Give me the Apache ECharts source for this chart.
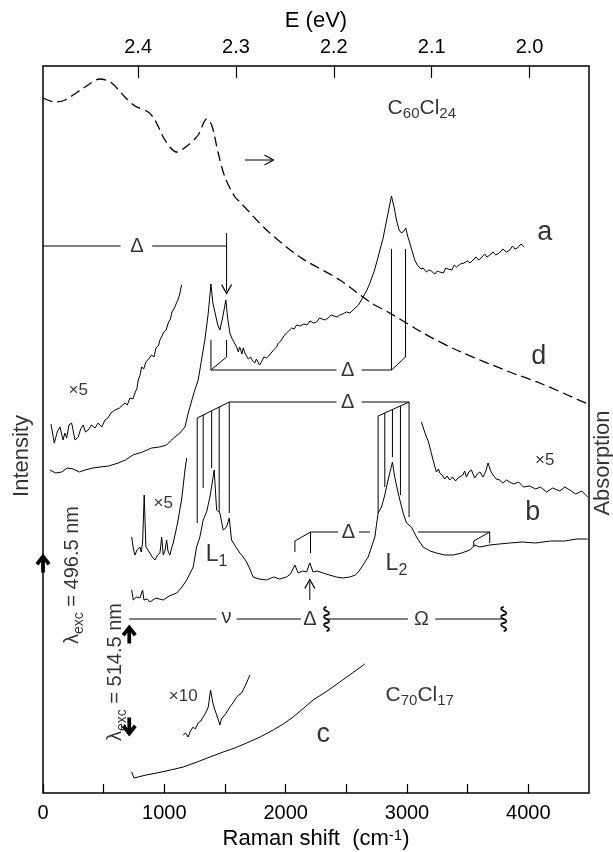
<!DOCTYPE html>
<html>
<head>
<meta charset="utf-8">
<script src="https://cdn.jsdelivr.net/npm/echarts@6/dist/echarts.min.js"></script>
<style>
  html, body { margin: 0; padding: 0; background: #fff; }
  #chart { width: 613px; height: 852px; }
</style>
</head>
<body>
<div id="chart"></div>
<script>
// all curves: [Raman shift (cm-1), height in arbitrary units]

const absorptionD = [
  [0, 695], [99, 691], [181, 693], [346, 706], [470, 714], [566, 710], [675, 696],
  [758, 687], [867, 681], [923, 673], [1005, 653], [1101, 641], [1197, 648],
  [1279, 658], [1348, 674], [1390, 668], [1444, 640], [1499, 616], [1582, 596],
  [1623, 591], [1843, 563], [2117, 536], [2446, 513], [2694, 491], [2858, 480],
  [3133, 460], [3408, 443], [3847, 421], [4094, 410], [4489, 389],
];

const spectrumA = [
  [58, 323], [104, 320], [154, 321], [200, 325], [250, 324], [300, 321], [346, 323],
  [410, 325], [470, 326], [540, 327], [620, 330], [680, 333], [741, 338], [820, 341],
  [895, 345], [960, 346], [1019, 348], [1050, 352], [1087, 356], [1128, 360],
  [1170, 366], [1197, 380], [1246, 401], [1279, 413], [1334, 453], [1362, 480],
  [1384, 509], [1400, 490], [1417, 481], [1440, 468], [1458, 463], [1480, 475],
  [1507, 493], [1522, 475], [1540, 460], [1556, 455], [1570, 452], [1582, 449],
  [1596, 446], [1610, 441], [1620, 446], [1630, 443], [1640, 439], [1650, 445],
  [1664, 440], [1678, 440], [1692, 434], [1710, 436], [1728, 432], [1746, 430],
  [1758, 434], [1770, 433], [1785, 428], [1800, 431], [1820, 436], [1843, 435],
  [1860, 437], [1880, 440], [1900, 443], [1925, 446], [1940, 450], [1960, 452],
  [1985, 457], [2007, 460], [2025, 462], [2050, 465], [2070, 464], [2090, 468],
  [2120, 467], [2150, 469], [2175, 468], [2200, 472], [2230, 470], [2255, 471],
  [2280, 475], [2300, 474], [2325, 473], [2350, 475], [2375, 478], [2400, 477],
  [2425, 476], [2446, 478], [2470, 479], [2500, 481], [2530, 480], [2556, 483],
  [2600, 488], [2638, 496], [2670, 503], [2694, 510], [2730, 522], [2762, 536],
  [2803, 555], [2844, 580], [2872, 597], [2895, 585], [2913, 573], [2935, 563],
  [2955, 560], [2975, 562], [2990, 565], [3005, 557], [3023, 550], [3064, 533],
  [3085, 528], [3100, 527], [3115, 524], [3133, 525], [3160, 521], [3180, 523],
  [3200, 522], [3230, 519], [3250, 522], [3270, 521], [3300, 520], [3320, 525],
  [3340, 524], [3370, 523], [3390, 528], [3408, 526], [3440, 529], [3470, 530],
  [3500, 532], [3520, 530], [3544, 533], [3570, 536], [3590, 533], [3610, 535],
  [3640, 539], [3660, 536], [3682, 538], [3710, 541], [3730, 538], [3760, 540],
  [3790, 544], [3820, 541], [3847, 543], [3870, 547], [3890, 544], [3910, 545],
  [3940, 549], [3967, 546],
];

const spectrumAx5 = [
  [66, 369], [93, 350], [120, 362], [140, 366], [165, 353], [180, 360], [195, 355],
  [214, 368], [236, 370], [264, 353], [291, 356], [310, 364], [332, 368], [350, 361],
  [373, 363], [400, 368], [428, 365], [455, 370], [484, 366], [510, 373], [535, 375],
  [560, 380], [593, 383], [630, 385], [675, 390], [695, 388], [717, 395], [740, 394],
  [758, 400], [775, 405], [785, 413], [800, 418], [813, 426], [830, 424], [848, 431],
  [870, 434], [895, 438], [915, 436], [931, 445], [950, 447], [964, 453], [980, 455],
  [997, 461], [1015, 463], [1032, 470], [1050, 474], [1063, 481], [1075, 479],
  [1087, 486], [1100, 490], [1112, 493], [1125, 498], [1142, 508],
];

const spectrumB = [
  [731, 203], [744, 193], [770, 196], [799, 195], [821, 203], [832, 193], [860, 194],
  [881, 191], [930, 195], [991, 193], [1040, 197], [1101, 200], [1140, 205],
  [1184, 213], [1238, 226], [1266, 246], [1293, 256], [1320, 273], [1348, 281],
  [1376, 296], [1398, 313], [1411, 323], [1431, 283], [1458, 280], [1485, 263],
  [1513, 266], [1535, 275], [1554, 253], [1590, 246], [1623, 240], [1650, 236],
  [1678, 231], [1705, 224], [1732, 216], [1780, 214], [1843, 213], [1900, 216],
  [1950, 214], [2007, 216], [2040, 219], [2076, 228], [2103, 220], [2140, 222],
  [2172, 221], [2199, 230], [2226, 221], [2260, 222], [2309, 220], [2360, 218],
  [2419, 216], [2470, 215], [2529, 216], [2575, 218], [2611, 223], [2680, 236],
  [2735, 256], [2762, 280], [2790, 286], [2817, 298], [2844, 313], [2880, 331],
  [2899, 316], [2927, 300], [2968, 280], [2996, 270], [3037, 266], [3078, 256],
  [3133, 246], [3190, 242], [3243, 240], [3310, 238], [3380, 238], [3450, 240],
  [3517, 243], [3558, 248], [3600, 246], [3682, 248], [3760, 249], [3847, 250],
  [3950, 251], [4060, 250], [4180, 252], [4300, 252], [4400, 254], [4489, 254],
];

const spectrumBx5Left = [
  [731, 256], [745, 244], [758, 238], [775, 243], [799, 246], [810, 241], [821, 251],
  [834, 298], [848, 246], [865, 243], [881, 240], [900, 236], [923, 233], [945, 238],
  [964, 240], [978, 256], [991, 238], [1005, 242], [1019, 253], [1030, 242],
  [1046, 238], [1060, 245], [1073, 250], [1095, 262], [1114, 273], [1130, 285],
  [1142, 293], [1158, 310], [1170, 323], [1184, 335],
];

const spectrumBx5Right = [
  [3119, 371], [3140, 363], [3160, 356], [3175, 352], [3188, 346], [3200, 340],
  [3215, 333], [3230, 326], [3243, 321], [3260, 324], [3270, 320], [3290, 318],
  [3310, 314], [3330, 317], [3352, 313], [3375, 316], [3400, 312], [3420, 315],
  [3435, 313], [3460, 318], [3475, 322], [3490, 316], [3510, 321], [3531, 323],
  [3558, 315], [3580, 319], [3600, 321], [3627, 316], [3650, 322], [3668, 330],
  [3690, 322], [3709, 318], [3735, 314], [3764, 313], [3790, 310], [3820, 313],
  [3847, 311], [3880, 309], [3920, 311], [3960, 306], [4011, 307], [4060, 304],
  [4100, 306], [4151, 301], [4200, 305], [4260, 302], [4300, 306], [4341, 303],
  [4390, 299], [4440, 302], [4489, 296],
];

const spectrumC = [
  [731, 21], [750, 15], [850, 18], [937, 20], [1050, 23], [1156, 26], [1270, 31],
  [1376, 36], [1392, 35], [1485, 41], [1580, 45], [1678, 50], [1790, 56], [1897, 63],
  [1980, 69], [2062, 76], [2150, 85], [2226, 93], [2330, 101], [2446, 111],
  [2550, 120], [2652, 129],
];

const spectrumCx10 = [
  [1156, 58], [1175, 60], [1197, 56], [1215, 62], [1238, 66], [1255, 64], [1279, 70],
  [1300, 72], [1320, 76], [1340, 80], [1362, 86], [1381, 103], [1400, 90], [1417, 83],
  [1440, 75], [1458, 68], [1470, 74], [1485, 76], [1510, 80], [1540, 86], [1565, 90],
  [1596, 96], [1615, 98], [1637, 100], [1670, 108], [1705, 118],
];

// annotation strokes (brackets, region line), same units
const deltaTopA = [
  [[0, 547], [640, 547]],
  [[900, 547], [1513, 547]],
  [[1513, 560], [1513, 502]],
];

const deltaLowA = [
  [[1384, 453], [1384, 423], [2419, 423]],
  [[2625, 423], [2872, 423], [2872, 544]],
  [[1513, 453], [1513, 436], [1384, 423]],
  [[2988, 544], [2988, 436], [2872, 423]],
];

const deltaUpperB = [
  [[1271, 375], [1535, 391], [2419, 391]],
  [[2625, 391], [3017, 391], [3017, 276]],
  [[2762, 377], [3017, 391]],
  [[1271, 375], [1271, 270]],
  [[1320, 378], [1320, 305]],
  [[1390, 382], [1390, 325]],
  [[1452, 386], [1452, 281]],
  [[1535, 391], [1535, 280]],
  [[2762, 377], [2762, 280]],
  [[2817, 380], [2817, 306]],
  [[2880, 384], [2880, 336]],
  [[2946, 387], [2946, 298]],
];

const deltaLowB = [
  [[2076, 241], [2076, 252], [2205, 261], [2432, 261]],
  [[2605, 261], [2694, 261]],
  [[3091, 261], [3682, 261], [3682, 250]],
  [[2205, 261], [2205, 240]],
  [[3682, 261], [3550, 252], [3550, 246]],
];

const regionLine = [
  [[711, 174], [1430, 174]],
  [[1595, 174], [2125, 174]],
  [[2337, 174], [3007, 174]],
  [[3233, 174], [3797, 174]],
];

const arrowStems = [
  [[2199, 193], [2199, 211]],
  [[1664, 633], [1890, 633]],
];

const regionBreaks = [[2337, 174], [3797, 174]];

// markers: [x, y, rotation]
const thickArrows = [[0, 230, 0], [711, 159, 0], [711, 66, 180]];
const thinHeads = [[1513, 500, 180], [2199, 213, 0], [1895, 633, -90]];

// text: [text, x, y, kind]
const textItems = [
  ['{m|C}{s|60}{m|Cl}{s|24}', 3122, 685, 'formula'],
  ['{m|C}{s|70}{m|Cl}{s|17}', 3105, 98, 'formula'],
  ['a', 4135, 560, 'letter'],
  ['d', 4086, 436, 'letter'],
  ['b', 4036, 280, 'letter'],
  ['c', 2309, 58, 'letter'],
  ['×5', 291, 403, 'gain'],
  ['×5', 991, 290, 'gain'],
  ['×5', 4135, 333, 'gain'],
  ['×10', 1156, 97, 'gain'],
  ['{m|L}{s|1}', 1431, 238, 'peak'],
  ['{m|L}{s|2}', 2913, 229, 'peak'],
  ['Δ', 774, 547, 'greek'],
  ['Δ', 2512, 423, 'greek'],
  ['Δ', 2512, 391, 'greek'],
  ['Δ', 2518, 261, 'greek'],
  ['ν', 1513, 176, 'greek'],
  ['Δ', 2199, 174, 'greek'],
  ['Ω', 3120, 174, 'greek'],
  ['Intensity', -173, 337, 'side'],
  ['Absorption', 4613, 330, 'side'],
  ['{m|λ}{s|exc}{m| = 496.5 nm}', 247, 218, 'lambda'],
  ['{m|λ}{s|exc}{m| = 514.5 nm}', 600, 121, 'lambda'],
];

const bottomLabelStep = 1000;
const topEnergies = [2.4, 2.3, 2.2, 2.1, 2.0];
const laserEnergy = 2.4972; // eV, 496.5 nm
const cmPerEv = 8065.5;

const FONT = 'Liberation Sans, Arial, sans-serif';

const textKinds = {
  formula: { size: 21, sub: 15, rotate: 0 },
  letter: { size: 27, sub: 18, rotate: 0 },
  gain: { size: 17, sub: 12, rotate: 0 },
  peak: { size: 23, sub: 16, rotate: 0 },
  greek: { size: 20, sub: 14, rotate: 0 },
  side: { size: 22, sub: 15, rotate: 90 },
  lambda: { size: 20, sub: 14, rotate: 90 },
};

function lineSeries(points, extra) {
  return Object.assign({
    type: 'line',
    data: points,
    showSymbol: false,
    symbol: 'none',
    silent: true,
    clip: false,
    animation: false,
    lineStyle: { color: '#000', width: 1 },
    z: 3,
  }, extra || {});
}

function strokeGroup(polylines, width) {
  return polylines.map((points) => lineSeries(points, {
    lineStyle: { color: '#000', width: width || 1 },
  }));
}

function textSeries() {
  return {
    type: 'scatter',
    silent: true,
    clip: false,
    animation: false,
    symbolSize: 0,
    z: 6,
    data: textItems.map((item) => {
      const kind = textKinds[item[3]];
      return {
        value: [item[1], item[2]],
        label: {
          show: true,
          position: [0, 0],
          align: 'center',
          verticalAlign: 'middle',
          rotate: kind.rotate,
          formatter: item[0],
          color: '#000',
          fontFamily: FONT,
          fontSize: kind.size,
          rich: {
            m: { fontSize: kind.size, fontFamily: FONT, color: '#000', lineHeight: kind.size * 1.3, verticalAlign: 'middle' },
            s: { fontSize: kind.sub, fontFamily: FONT, color: '#000', lineHeight: kind.sub, verticalAlign: 'bottom', padding: [kind.size * 0.55, 0, 0, 0] },
          },
        },
      };
    }),
  };
}

const thickArrowPath = 'path://M10,0 L20,11 L16,14 L12.5,9.5 L12.5,22 L7.5,22 L7.5,9.5 L4,14 L0,11 Z';
const chevronPath = 'path://M0,9 L5,0 L10,9';
const squigglePath = 'path://M3,0 C0,3 6,5 3,8 C0,11 6,13 3,16 C0,19 6,21 3,24';

const chart = echarts.init(document.getElementById('chart'));

chart.setOption({
  animation: false,
  backgroundColor: '#fff',
  grid: {
    left: 43,
    right: 24,
    top: 66,
    bottom: 59,
    show: true,
    borderColor: '#000',
    borderWidth: 1.5,
    backgroundColor: 'transparent',
    containLabel: false,
    outerBoundsMode: 'none',
  },
  xAxis: [
    {
      type: 'value',
      position: 'bottom',
      min: 0,
      max: 4500,
      interval: 500,
      splitLine: { show: false },
      axisLine: { show: false },
      axisTick: { inside: true, length: 9, lineStyle: { color: '#000', width: 1.2 } },
      axisLabel: {
        color: '#000',
        fontFamily: FONT,
        fontSize: 20,
        margin: 10,
        showMaxLabel: false,
        formatter: (v) => (v % bottomLabelStep === 0 ? String(v) : ''),
      },
      name: 'Raman shift  (cm{sup|-1})',
      nameLocation: 'middle',
      nameGap: 34,
      nameTextStyle: {
        color: '#000',
        fontFamily: FONT,
        fontSize: 22,
        rich: { sup: { fontSize: 15, fontFamily: FONT, color: '#000', verticalAlign: 'top', padding: [0, 0, 6, 0] } },
      },
    },
    {
      type: 'value',
      position: 'top',
      min: 0,
      max: 4500,
      splitLine: { show: false },
      axisLine: { show: false },
      axisTick: {
        inside: true,
        length: 12,
        customValues: topEnergies.map((e) => (laserEnergy - e) * cmPerEv),
        lineStyle: { color: '#000', width: 1.2 },
      },
      axisLabel: {
        color: '#000',
        fontFamily: FONT,
        fontSize: 20,
        margin: 9,
        customValues: topEnergies.map((e) => (laserEnergy - e) * cmPerEv),
        formatter: (v) => (laserEnergy - v / cmPerEv).toFixed(1),
      },
      name: 'E (eV)',
      nameLocation: 'middle',
      nameGap: 27,
      nameTextStyle: { color: '#000', fontFamily: FONT, fontSize: 22 },
    },
  ],
  yAxis: {
    type: 'value',
    min: 0,
    max: 727,
    show: false,
  },
  series: [
    lineSeries(absorptionD, { smooth: 0.3, lineStyle: { color: '#000', width: 1.3, type: [10, 5] } }),
    lineSeries(spectrumA),
    lineSeries(spectrumAx5),
    lineSeries(spectrumB),
    lineSeries(spectrumBx5Left),
    lineSeries(spectrumBx5Right),
    lineSeries(spectrumC),
    lineSeries(spectrumCx10),
    ...strokeGroup(deltaTopA),
    ...strokeGroup(deltaLowA),
    ...strokeGroup(deltaUpperB),
    ...strokeGroup(deltaLowB),
    ...strokeGroup(regionLine),
    ...strokeGroup(arrowStems),
    {
      type: 'scatter',
      silent: true,
      clip: false,
      animation: false,
      z: 7,
      symbol: thickArrowPath,
      symbolSize: [15, 19],
      itemStyle: { color: '#000', opacity: 1 },
      data: thickArrows.map((a) => ({ value: [a[0], a[1]], symbolRotate: a[2] })),
    },
    {
      type: 'scatter',
      silent: true,
      clip: false,
      animation: false,
      z: 7,
      symbol: chevronPath,
      symbolSize: [10, 9],
      itemStyle: { color: 'rgba(0,0,0,0)', borderColor: '#000', borderWidth: 1.2, opacity: 1 },
      data: thinHeads.map((a) => ({
        value: [a[0], a[1]],
        symbolRotate: a[2],
        symbolOffset: a[2] === 180 ? [0, -4] : (a[2] === 0 ? [0, 4] : [-4, 0]),
      })),
    },
    {
      type: 'scatter',
      silent: true,
      clip: false,
      animation: false,
      z: 7,
      symbol: squigglePath,
      symbolSize: [6, 24],
      itemStyle: { color: 'rgba(0,0,0,0)', borderColor: '#000', borderWidth: 1, opacity: 1 },
      data: regionBreaks,
    },
    textSeries(),
  ],
});
</script>
</body>
</html>
